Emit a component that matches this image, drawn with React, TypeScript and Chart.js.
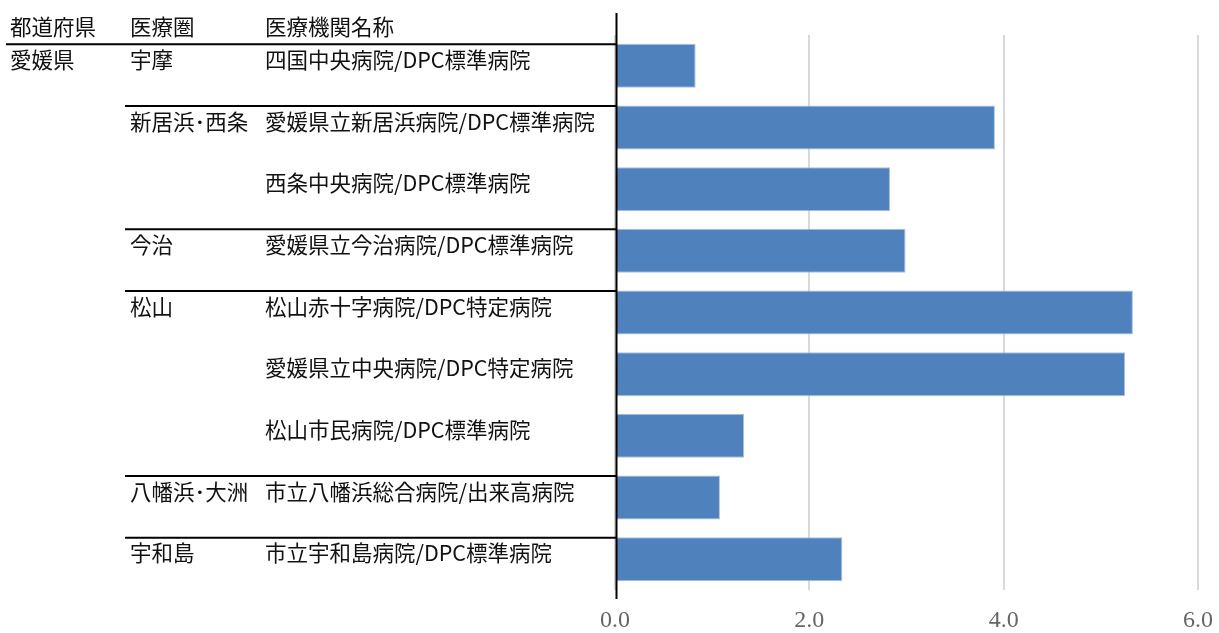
import React, { useEffect, useRef } from "react";
import { Chart, registerables } from "chart.js";

Chart.register(...registerables);

const headers = ["都道府県", "医療圏", "医療機関名称"];
const prefectures = ["愛媛県", "", "", "", "", "", "", "", ""];
const areas = ["宇摩", "新居浜･西条", "", "今治", "松山", "", "", "八幡浜･大洲", "宇和島"];
const hospitals = [
  "四国中央病院/DPC標準病院",
  "愛媛県立新居浜病院/DPC標準病院",
  "西条中央病院/DPC標準病院",
  "愛媛県立今治病院/DPC標準病院",
  "松山赤十字病院/DPC特定病院",
  "愛媛県立中央病院/DPC特定病院",
  "松山市民病院/DPC標準病院",
  "市立八幡浜総合病院/出来高病院",
  "市立宇和島病院/DPC標準病院",
];
const values = [0.83, 3.91, 2.83, 2.99, 5.33, 5.25, 1.33, 1.08, 2.34];
const xTicks = [0, 2, 4, 6];

const JP_FONT = '"Noto Sans CJK JP", "Noto Sans", sans-serif';

const tablePlugin = {
  id: "tablePlugin",
  afterDraw(chart: any) {
    const ctx = chart.ctx as CanvasRenderingContext2D;
    const bars = chart.getDatasetMeta(0).data;
    const xs = chart.scales.x;
    const axisX = xs.getPixelForValue(0) + 1.5;
    const tops = bars.map((b: any) => b.y - b.height / 2);
    ctx.save();
    // vertical axis line
    ctx.strokeStyle = "#000";
    ctx.lineWidth = 2;
    ctx.beginPath();
    ctx.moveTo(axisX, 13);
    ctx.lineTo(axisX, chart.chartArea.bottom + 9);
    ctx.stroke();

    const colX = [10, 130, 265];
    ctx.font = `21.5px ${JP_FONT}`;
    ctx.fillStyle = "#111";
    ctx.textBaseline = "middle";
    ctx.textAlign = "left";
    const headerY = tops[0] - 16.5;
    headers.forEach((h, i) => ctx.fillText(h, colX[i], headerY));
    ctx.beginPath();
    ctx.moveTo(6, tops[0] + 0.5);
    ctx.lineTo(axisX, tops[0] + 0.5);
    ctx.stroke();
    for (let i = 0; i < hospitals.length; i++) {
      const ty = tops[i] + 16;
      if (prefectures[i]) ctx.fillText(prefectures[i], colX[0], ty);
      if (areas[i]) {
        ctx.fillText(areas[i], colX[1], ty);
        if (i > 0) {
          ctx.beginPath();
          ctx.moveTo(125, tops[i] + 0.5);
          ctx.lineTo(axisX, tops[i] + 0.5);
          ctx.stroke();
        }
      }
      ctx.fillText(hospitals[i], colX[2], ty);
    }
    ctx.restore();
  },
};

export default function App() {
  const ref = useRef<HTMLCanvasElement>(null);
  useEffect(() => {
    if (!ref.current) return;
    const chart = new Chart(ref.current, {
      type: "bar",
      data: {
        labels: hospitals,
        datasets: [
          {
            data: values,
            backgroundColor: "#4f81bd",
            borderColor: "#a8c0de",
            borderWidth: 1,
            categoryPercentage: 1,
            barPercentage: 0.714,
          },
        ],
      },
      options: {
        indexAxis: "y",
        animation: false,
        responsive: false,
        layout: { padding: { left: 615, right: 21, top: 35, bottom: 0 } },
        plugins: { legend: { display: false }, tooltip: { enabled: false } },
        scales: {
          y: { display: false },
          x: {
            min: 0,
            max: 6,
            afterBuildTicks: (axis: any) => {
              axis.ticks = xTicks.map((v) => ({ value: v }));
            },
            border: { display: false },
            grid: { color: "#d9d9d9", lineWidth: 2, drawTicks: false },
            ticks: {
              padding: 2,
              color: "#666",
              font: { family: '"Liberation Serif", serif', size: 24, lineHeight: "58px" },
              callback: (v: any) => Number(v).toFixed(1),
            },
          },
        },
      },
      plugins: [tablePlugin],
    });
    return () => chart.destroy();
  }, []);
  return (
    <div style={{ position: "absolute", left: 0, top: 0, width: 1219, height: 633, overflow: "hidden", background: "#fff" }}>
      <canvas ref={ref} width={1219} height={652} style={{ display: "block" }} />
    </div>
  );
}
